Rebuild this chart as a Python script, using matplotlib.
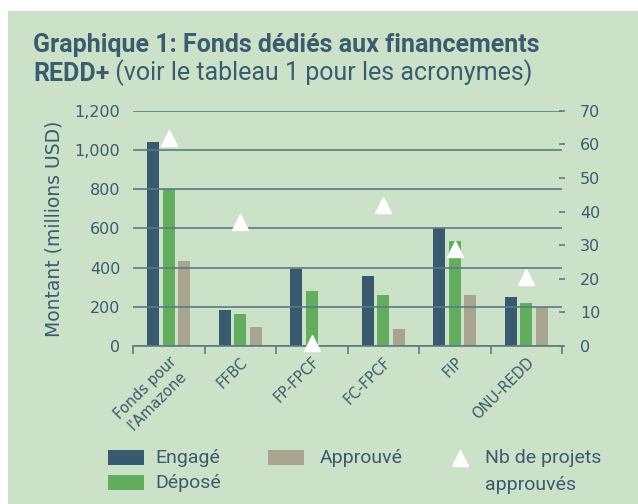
import numpy as np
import matplotlib
matplotlib.use("Agg")
import matplotlib.pyplot as plt
from matplotlib.patches import Rectangle

categories = ["Fonds pour\nl'Amazone", "FFBC", "FP-FPCF", "FC-FPCF", "FIP", "ONU-REDD"]
engage = [1040, 184, 391, 359, 603, 248]
depose = [800, 162, 282, 260, 534, 218]
approuve = [435, 95, 0, 85, 260, 197]
nb_projets = [62, 37, 1, 42, 29, 20.5]

left_ticks = [0, 200, 400, 600, 800, 1000, 1200]
left_labels = ["0", "200", "400", "600", "800", "1,000", "1,200"]
right_ticks = [0, 10, 20, 30, 40, 50, 60, 70]

bg = "#cbe1c8"
txt = "#3b5c6e"
c_eng = "#375a6e"
c_dep = "#62ad5e"
c_app = "#a8a48f"
grid_c = "#5b7b83"
font = ["Roboto", "DejaVu Sans"]

fig = plt.figure(figsize=(6.38, 5.04), dpi=100)
# green panel behind everything
fig.patches.append(Rectangle((8 / 638, 0), 1, 1 - 11 / 504, transform=fig.transFigure,
                             facecolor=bg, edgecolor="none", zorder=-10))

ax = fig.add_axes([133 / 638, 1 - 346 / 504, (562 - 133) / 638, (346 - 110.7) / 504])
ax.set_facecolor("none")
x = np.arange(len(categories))
w = 0.172
step = 0.217
ax.bar(x - step, engage, w, color=c_eng, zorder=2)
ax.bar(x, depose, w, color=c_dep, zorder=2)
ax.bar(x + step, approuve, w, color=c_app, zorder=2)

ax.set_xlim(-0.5, len(categories) - 0.5)
ax.set_ylim(0, 1200)
ax.set_yticks(left_ticks, left_labels)
ax.yaxis.grid(True, color=grid_c, lw=1.2, zorder=3)
ax.set_axisbelow(False)
ax.tick_params(axis="y", length=0, pad=9, labelsize=11.5, labelcolor=txt)
for s in ["left", "top", "right"]:
    ax.spines[s].set_visible(False)
ax.spines["bottom"].set_color(grid_c)
ax.spines["bottom"].set_linewidth(1.2)

ax.set_xticks(x)
ax.set_xticklabels(categories, rotation=45, ha="right", va="top",
                   rotation_mode="anchor", fontsize=10.5, color=txt,
                   multialignment="center")
ax.tick_params(axis="x", which="major", length=0, pad=6)
ax.set_xticks(np.arange(len(categories) + 1) - 0.5, minor=True)
ax.tick_params(axis="x", which="minor", length=6, width=1.2, color=grid_c)

ax.set_ylabel("Montant (millions USD)", fontsize=13.5, color=txt, labelpad=8)

ax2 = ax.twinx()
ax2.set_ylim(0, 70)
ax2.set_yticks(right_ticks)
ax2.plot(x, nb_projets, linestyle="none", marker="^", ms=11, color="white",
         markeredgecolor="white", clip_on=False, zorder=5)
for s in ["left", "top", "right", "bottom"]:
    ax2.spines[s].set_visible(False)
ax2.tick_params(axis="y", direction="inout", length=4, width=1.2, color=grid_c,
                pad=11, labelsize=11.5, labelcolor=txt)

# title, second line is bold + regular
fig.text(33 / 638, 1 - 45 / 504, "Graphique 1: Fonds dédiés aux financements",
         fontsize=18, fontweight="bold", color=txt, family=font, va="center")
t = fig.text(33 / 638, 1 - 74 / 504, "REDD+", fontsize=18, fontweight="bold",
             color=txt, family=font, va="center")
ax.annotate(" (voir le tableau 1 pour les acronymes)", xy=(1, 0), xycoords=t,
            va="bottom", ha="left", fontsize=18, color=txt, family=font,
            annotation_clip=False)


# legend drawn by hand, in pixel positions
def fx(px):
    return px / 638


def fy(py):
    return 1 - py / 504


for (x0, y0, col) in [(108, 450, c_eng), (108, 475, c_dep), (268, 450, c_app)]:
    fig.patches.append(Rectangle((fx(x0), fy(y0 + 15)), fx(36), 15 / 504,
                                 transform=fig.transFigure, facecolor=col,
                                 edgecolor="none"))
fig.text(fx(155), fy(458), "Engagé", fontsize=14, color=txt, va="center", family=font)
fig.text(fx(155), fy(483), "Déposé", fontsize=14, color=txt, va="center", family=font)
fig.text(fx(320), fy(458), "Approuvé", fontsize=14, color=txt, va="center", family=font)
fig.lines.append(plt.Line2D([fx(460)], [fy(458)], transform=fig.transFigure,
                            marker="^", ms=11, color="white", linestyle="none"))
fig.text(fx(485), fy(458), "Nb de projets", fontsize=14, color=txt, va="center", family=font)
fig.text(fx(485), fy(485), "approuvés", fontsize=14, color=txt, va="center", family=font)

fig.savefig("out.png", dpi=100)
